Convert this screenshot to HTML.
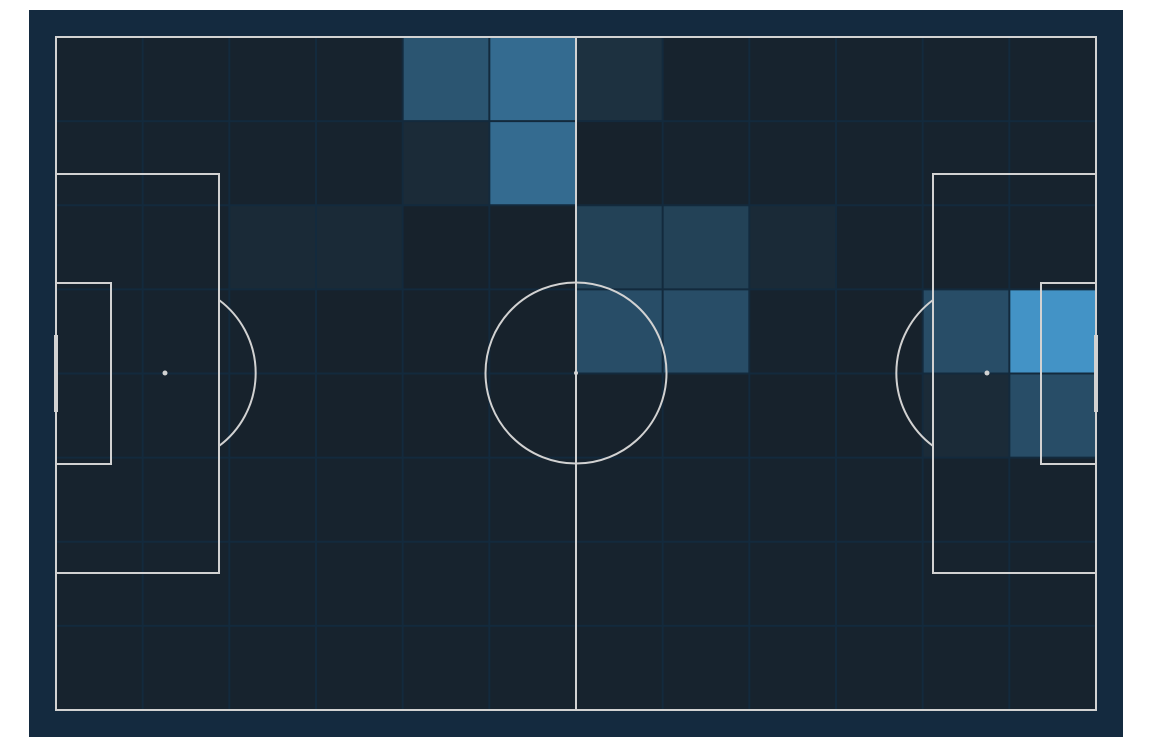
<!DOCTYPE html>
<html><head><meta charset="utf-8"><style>
html,body{margin:0;padding:0;background:#fff;width:1152px;height:748px;overflow:hidden}
svg{display:block}
</style></head><body>
<svg id="chart" width="1152" height="748" xmlns="http://www.w3.org/2000/svg">
<rect x="29" y="10" width="1094" height="727" fill="#142a3f"/>
<rect x="56" y="37" width="1040" height="673" fill="#132a3d"/>
<g id="cells"></g>
<g id="lines" fill="none" stroke="#d2d2d2" stroke-width="2"></g>
</svg>
<script>
// 12 columns x 8 rows of zone values (0..10)
const colCount = 12;
const rowCount = 8;
const values = [
  [0.1,0.1,0.1,0.1,4.5,6.5,1.3,0.1,0.1,0.1,0.1,0.1],
  [0.1,0.1,0.1,0.1,0.8,6.5,0,0.1,0.1,0.1,0.1,0.1],
  [0.1,0.1,0.7,0.7,0,0,2.8,2.8,0.7,0.1,0.1,0.1],
  [0.1,0.1,0.1,0,0,0,3.8,3.8,0.1,0,3.8,10],
  [0.1,0.1,0,0,0,0,0,0,0,0,0.8,3.8],
  [0.1,0.1,0.1,0.1,0.1,0.1,0.1,0.1,0.1,0.1,0.1,0.1],
  [0.1,0.1,0.1,0.1,0.1,0.1,0.1,0.1,0.1,0.1,0.1,0.1],
  [0.1,0.1,0.1,0.1,0.1,0.1,0.1,0.1,0.1,0.1,0.1,0.1]
];
const vMax = 10;
const X0=56, X1=1096, Y0=37, Y1=710;
const xScale = c => X0 + (X1-X0)*c/colCount;
const yScale = r => Y0 + (Y1-Y0)*r/rowCount;
const lo=[23,34,44], hi=[67,147,198];
function color(v){const t=Math.max(0,Math.min(1,v/vMax));return 'rgb('+lo.map((l,i)=>Math.round(l+(hi[i]-l)*t)).join(',')+')';}
const NS='http://www.w3.org/2000/svg';
const cg=document.getElementById('cells');
for(let r=0;r<rowCount;r++)for(let c=0;c<colCount;c++){
  const x=xScale(c),y=yScale(r),w=xScale(c+1)-x,h=yScale(r+1)-y;
  const el=document.createElementNS(NS,'rect');
  el.setAttribute('x',x+1);el.setAttribute('y',y+1);el.setAttribute('width',w-2);el.setAttribute('height',h-2);
  el.setAttribute('fill',color(values[r][c]));
  
  
  cg.appendChild(el);
}
const lg=document.getElementById('lines');
const shapes=[
 ['pitch-outline','rect',{x:56,y:37,width:1040,height:673}],
 ['halfway-line','line',{x1:576,y1:37,x2:576,y2:710}],
 ['center-circle','circle',{cx:576,cy:373,r:90.5}],
 ['left-penalty-box','rect',{x:56,y:174,width:163,height:399}],
 ['left-six-yard-box','rect',{x:56,y:283,width:55,height:181}],
 ['right-penalty-box','rect',{x:933,y:174,width:163,height:399}],
 ['right-six-yard-box','rect',{x:1041,y:283,width:55,height:181}],
 ['left-penalty-arc','path',{d:'M219 300 A91 91 0 0 1 219 446'}],
 ['right-penalty-arc','path',{d:'M933 300 A91 91 0 0 0 933 446'}],
 ['center-spot','circle',{cx:576,cy:373,r:2,fill:'#d2d2d2',stroke:'none'}],
 ['left-penalty-spot','circle',{cx:165,cy:373,r:2.5,fill:'#d2d2d2',stroke:'none'}],
 ['right-penalty-spot','circle',{cx:987,cy:373,r:2.5,fill:'#d2d2d2',stroke:'none'}],
 ['left-goal','rect',{x:54,y:335,width:4,height:77,fill:'#d2d2d2',stroke:'none'}],
 ['right-goal','rect',{x:1094,y:335,width:4,height:77,fill:'#d2d2d2',stroke:'none'}]
];
for(const [name,tag,attrs] of shapes){
  const el=document.createElementNS(NS,tag);
  for(const k in attrs) el.setAttribute(k,attrs[k]);
  
  
  lg.appendChild(el);
}
</script>
</body></html>
